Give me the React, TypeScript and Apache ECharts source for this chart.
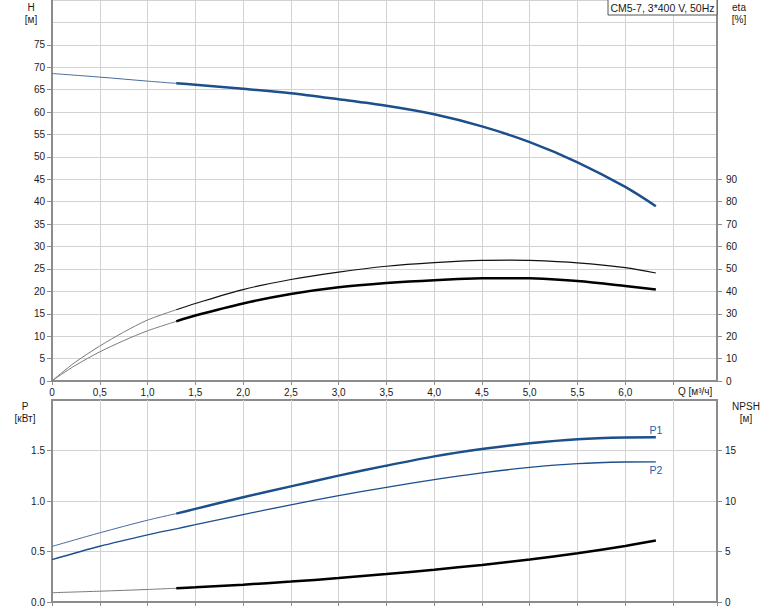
import React, { useEffect, useRef } from 'react';
import * as echarts from 'echarts';

// ---- data ----
const dutyStart = 1.3; // start of the bold (operating) part of the curves

const qH = [0, 0.5, 1.0, 1.3, 1.5, 2.0, 2.5, 3.0, 3.5, 4.0, 4.5, 5.0, 5.5, 6.0, 6.32];
const headH = [68.6, 67.8, 66.9, 66.4, 66.1, 65.2, 64.2, 62.85, 61.4, 59.5, 56.8, 53.3, 48.8, 43.3, 39.0];

const qEta = [0, 0.1, 0.25, 0.5, 0.75, 1.0, 1.3, 1.5, 2.0, 2.5, 3.0, 3.5, 4.0, 4.5, 4.8, 5.0, 5.5, 6.0, 6.32];
const etaUpper = [0, 3.6, 8.6, 15.6, 21.8, 27.2, 31.8, 34.6, 40.8, 45.3, 48.6, 51.2, 52.8, 53.8, 53.9, 53.8, 52.7, 50.6, 48.2];
const etaLower = [0, 3.0, 7.1, 13.0, 18.0, 22.4, 26.6, 29.2, 34.6, 38.8, 41.8, 43.7, 45.0, 45.8, 45.9, 45.8, 44.6, 42.4, 40.8];

const qP = [0, 0.5, 1.0, 1.3, 1.5, 2.0, 2.5, 3.0, 3.5, 4.0, 4.5, 5.0, 5.5, 6.0, 6.32];
const powerP1 = [0.55, 0.685, 0.81, 0.875, 0.922, 1.037, 1.145, 1.251, 1.35, 1.442, 1.515, 1.572, 1.612, 1.629, 1.631];
const powerP2 = [0.42, 0.552, 0.665, 0.725, 0.765, 0.866, 0.961, 1.053, 1.135, 1.211, 1.278, 1.333, 1.37, 1.386, 1.388];
const npshVals = [0.92, 1.07, 1.24, 1.36, 1.45, 1.72, 2.02, 2.37, 2.77, 3.2, 3.67, 4.2, 4.83, 5.55, 6.08];

const hTicks = [0, 5, 10, 15, 20, 25, 30, 35, 40, 45, 50, 55, 60, 65, 70, 75];
const etaTicks = [0, 10, 20, 30, 40, 50, 60, 70, 80, 90];
const pTicks = [0, 0.5, 1.0, 1.5];
const npshTicks = [0, 5, 10, 15];

const titleText = 'CM5-7, 3*400 V, 50Hz';

// ---- helpers ----
const pairs = (q: number[], v: number[]) => q.map((x, i) => [x, v[i]]);
const thinPart = (q: number[], v: number[]) => pairs(q, v).filter((p) => p[0] <= dutyStart + 1e-9);
const boldPart = (q: number[], v: number[]) => pairs(q, v).filter((p) => p[0] >= dutyStart - 1e-9);

const FONT = 'Liberation Sans, Arial, sans-serif';
const AXIS_COLOR = '#8c8c8c';
const GRID_COLOR = '#d2d2d2';
const TEXT_COLOR = '#1a1a1a';
const BLUE = '#1c4f8c';
const BLUE_THIN = '#4a6b9c';
const GRAY_THIN = '#7a7a7a';

const baseLine = (w: number, c: string) => ({
  type: 'line',
  showSymbol: false,
  symbol: 'none',
  smooth: 0.3,
  lineStyle: { width: w, color: c },
  itemStyle: { color: c },
  emphasis: { disabled: true },
  silent: true,
  z: 3,
});

export default function App() {
  const ref = useRef<HTMLDivElement>(null);

  useEffect(() => {
    if (!ref.current) return;
    const chart = echarts.init(ref.current, undefined, { renderer: 'svg' });

    const xLabelFmt = (v: number) => {
      const r = Math.round(v * 10) / 10;
      if (r > 6.01 || Math.abs(v - r) > 1e-6) return '';
      if (r === 0) return '0';
      return r.toFixed(1).replace('.', ',');
    };

    const axisLineStyle = { show: true, onZero: false, lineStyle: { color: AXIS_COLOR, width: 2 } };
    const labelStyle = { fontSize: 10, color: TEXT_COLOR, fontFamily: FONT };

    const option: any = {
      animation: false,
      backgroundColor: '#ffffff',
      grid: [
        { left: 52, right: 57, top: 0, height: 381 },
        { left: 52, right: 57, top: 400, height: 202, show: true, borderColor: AXIS_COLOR, borderWidth: 2 },
      ],
      xAxis: [
        {
          gridIndex: 0, type: 'value', min: 0, max: 6.96, interval: 0.5,
          axisLine: axisLineStyle,
          axisTick: { show: true, length: 4, lineStyle: { color: AXIS_COLOR } },
          axisLabel: { ...labelStyle, margin: 6, formatter: xLabelFmt, showMaxLabel: false },
          splitLine: { show: true, lineStyle: { color: GRID_COLOR, width: 1 } },
        },
        {
          gridIndex: 1, type: 'value', min: 0, max: 6.96, interval: 0.5,
          axisLine: axisLineStyle,
          axisTick: { show: true, length: 4, lineStyle: { color: AXIS_COLOR } },
          axisLabel: { show: false },
          splitLine: { show: true, lineStyle: { color: GRID_COLOR, width: 1 } },
        },
      ],
      yAxis: [
        // 0: H grid lines
        {
          gridIndex: 0, type: 'value', position: 'left', min: 0, max: 85, interval: 5,
          axisLine: { show: false, onZero: false }, axisTick: { show: false }, axisLabel: { show: false },
          splitLine: { show: true, lineStyle: { color: GRID_COLOR, width: 1 } },
        },
        // 1: H labels
        {
          gridIndex: 0, type: 'value', position: 'left', min: 0, max: 85, interval: 5,
          axisLine: axisLineStyle,
          axisTick: { show: true, length: 5, customValues: hTicks, lineStyle: { color: AXIS_COLOR } },
          axisLabel: { ...labelStyle, margin: 7, customValues: hTicks },
          splitLine: { show: false },
        },
        // 2: eta
        {
          gridIndex: 0, type: 'value', position: 'right', min: 0, max: 170, interval: 10,
          axisLine: axisLineStyle,
          axisTick: { show: true, length: 5, customValues: etaTicks, lineStyle: { color: AXIS_COLOR } },
          axisLabel: { ...labelStyle, margin: 9, customValues: etaTicks },
          splitLine: { show: false },
        },
        // 3: P
        {
          gridIndex: 1, type: 'value', position: 'left', min: 0, max: 2, interval: 0.5,
          axisLine: axisLineStyle,
          axisTick: { show: true, length: 5, customValues: pTicks, lineStyle: { color: AXIS_COLOR } },
          axisLabel: { ...labelStyle, margin: 7, customValues: pTicks, formatter: (v: number) => v.toFixed(1) },
          splitLine: { show: true, lineStyle: { color: GRID_COLOR, width: 1 } },
        },
        // 4: NPSH
        {
          gridIndex: 1, type: 'value', position: 'right', min: 0, max: 20, interval: 5,
          axisLine: axisLineStyle,
          axisTick: { show: true, length: 5, customValues: npshTicks, lineStyle: { color: AXIS_COLOR } },
          axisLabel: { ...labelStyle, margin: 8, customValues: npshTicks },
          splitLine: { show: false },
        },
      ],
      series: [
        { ...baseLine(1, BLUE_THIN), name: 'H thin', xAxisIndex: 0, yAxisIndex: 0, data: thinPart(qH, headH) },
        { ...baseLine(2.5, BLUE), name: 'H', xAxisIndex: 0, yAxisIndex: 0, data: boldPart(qH, headH) },
        { ...baseLine(1, GRAY_THIN), name: 'eta1 thin', xAxisIndex: 0, yAxisIndex: 2, data: thinPart(qEta, etaUpper) },
        { ...baseLine(1.2, '#111'), name: 'eta1', xAxisIndex: 0, yAxisIndex: 2, data: boldPart(qEta, etaUpper) },
        { ...baseLine(1, GRAY_THIN), name: 'eta2 thin', xAxisIndex: 0, yAxisIndex: 2, data: thinPart(qEta, etaLower) },
        { ...baseLine(2.5, '#000'), name: 'eta2', xAxisIndex: 0, yAxisIndex: 2, data: boldPart(qEta, etaLower) },
        { ...baseLine(1, BLUE_THIN), name: 'P1 thin', xAxisIndex: 1, yAxisIndex: 3, data: thinPart(qP, powerP1) },
        {
          ...baseLine(2.5, BLUE), name: 'P1', xAxisIndex: 1, yAxisIndex: 3, data: boldPart(qP, powerP1),
          endLabel: { show: true, formatter: 'P1', distance: 0, align: 'center', verticalAlign: 'bottom', offset: [0, -2], color: '#2a5d9e', fontSize: 10.5, fontFamily: FONT },
        },
        {
          ...baseLine(1.3, BLUE), name: 'P2', xAxisIndex: 1, yAxisIndex: 3, data: pairs(qP, powerP2),
          endLabel: { show: true, formatter: 'P2', distance: 0, align: 'center', verticalAlign: 'top', offset: [0, 3], color: '#2a5d9e', fontSize: 10.5, fontFamily: FONT },
        },
        { ...baseLine(1, GRAY_THIN), name: 'NPSH thin', xAxisIndex: 1, yAxisIndex: 4, data: thinPart(qP, npshVals) },
        { ...baseLine(2.5, '#000'), name: 'NPSH', xAxisIndex: 1, yAxisIndex: 4, data: boldPart(qP, npshVals) },
      ],
      graphic: [
        { type: 'text', style: { text: 'H\n[м]', x: 31, y: 1, align: 'center', lineHeight: 12, fontSize: 10, fill: TEXT_COLOR, fontFamily: FONT } },
        { type: 'text', style: { text: 'eta\n[%]', x: 739, y: 1, align: 'center', lineHeight: 12, fontSize: 10, fill: TEXT_COLOR, fontFamily: FONT } },
        { type: 'text', style: { text: 'P\n[кВт]', x: 25, y: 400, align: 'center', lineHeight: 12, fontSize: 10, fill: TEXT_COLOR, fontFamily: FONT } },
        { type: 'text', style: { text: 'NPSH\n[м]', x: 746, y: 400, align: 'center', lineHeight: 12, fontSize: 10, fill: TEXT_COLOR, fontFamily: FONT } },
        { type: 'text', style: { text: 'Q [м³/ч]', x: 678, y: 386, fontSize: 10, fill: TEXT_COLOR, fontFamily: FONT } },
        { type: 'rect', shape: { x: 608, y: -1, width: 109, height: 16 }, style: { fill: '#ffffff', stroke: '#555555', lineWidth: 1 }, z: 10 },
        { type: 'text', style: { text: titleText, x: 662.5, y: 7.5, align: 'center', verticalAlign: 'middle', fontSize: 10.5, fill: TEXT_COLOR, fontFamily: FONT }, z: 11 },
      ],
    };

    chart.setOption(option);
    return () => chart.dispose();
  }, []);

  return (
    <div
      ref={ref}
      style={{ position: 'fixed', left: 0, top: 0, width: 774, height: 611, background: '#fff' }}
    />
  );
}
